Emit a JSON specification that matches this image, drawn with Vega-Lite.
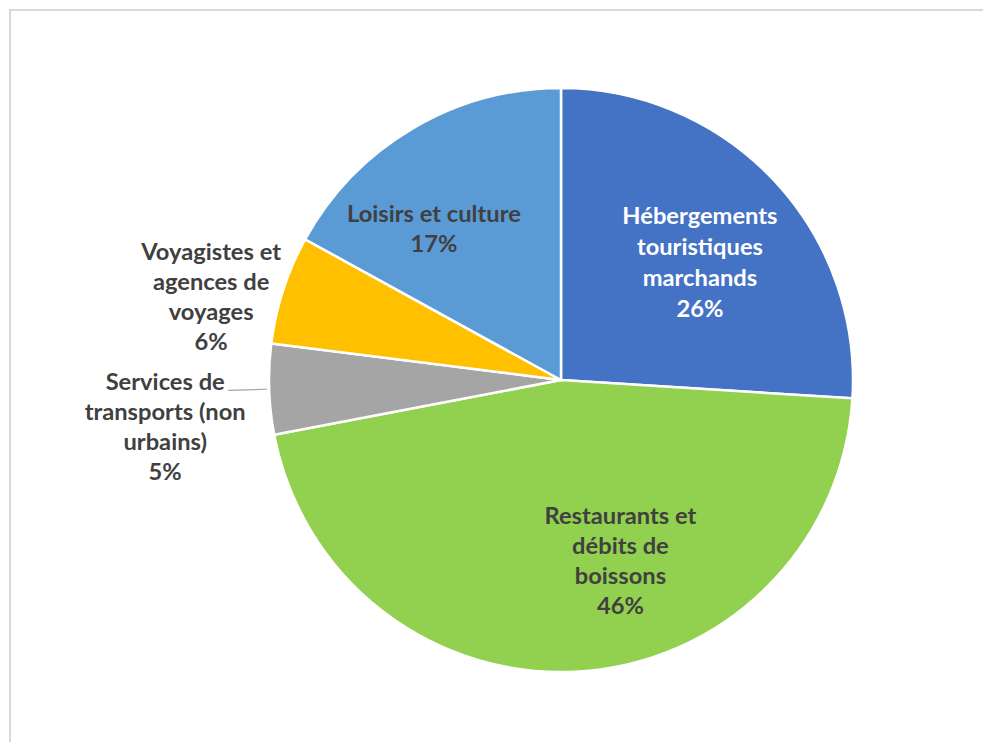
{
  "$schema": "https://vega.github.io/schema/vega-lite/v6.json",
  "width": 1102,
  "height": 740,
  "padding": {"left": 10, "top": 10, "right": 0, "bottom": 0},
  "autosize": {"type": "none"},
  "background": "white",
  "config": {"view": {"stroke": null}},
  "data": {
    "values": [
      {"idx": 1, "category": "Hébergements touristiques marchands", "value": 26, "lines": ["Hébergements", "touristiques", "marchands", "26%"]},
      {"idx": 2, "category": "Restaurants et débits de boissons", "value": 46, "lines": ["Restaurants et", "débits de", "boissons", "46%"]},
      {"idx": 3, "category": "Services de transports (non urbains)", "value": 5, "lines": ["Services de", "transports (non", "urbains)", "5%"]},
      {"idx": 4, "category": "Voyagistes et agences de voyages", "value": 6, "lines": ["Voyagistes et", "agences de", "voyages", "6%"]},
      {"idx": 5, "category": "Loisirs et culture", "value": 17, "lines": ["Loisirs et culture", "17%"]}
    ]
  },
  "layer": [
    {
      "mark": {"type": "rect", "fill": null, "stroke": "#d9d9d9", "strokeWidth": 2},
      "encoding": {}
    },
    {
      "mark": {"type": "arc", "radius": 292, "stroke": "white", "strokeWidth": 2.5},
      "encoding": {
        "theta": {"field": "value", "type": "quantitative", "stack": true},
        "order": {"field": "idx", "type": "quantitative"},
        "color": {
          "field": "category", "type": "nominal", "legend": null,
          "scale": {
            "domain": ["Hébergements touristiques marchands", "Restaurants et débits de boissons", "Services de transports (non urbains)", "Voyagistes et agences de voyages", "Loisirs et culture"],
            "range": ["#4472C4", "#92D050", "#A5A5A5", "#FFC000", "#5B9BD5"]
          }
        }
      }
    },
    {
      "mark": {"type": "arc", "radius": 333, "radius2": 294, "padAngle": 1.5, "fill": null, "stroke": "#a6a6a6", "strokeWidth": 1.2},
      "encoding": {
        "theta": {"field": "value", "type": "quantitative", "stack": true},
        "order": {"field": "idx", "type": "quantitative"},
        "strokeOpacity": {"condition": {"test": "datum.idx === 3", "value": 1}, "value": 0}
      }
    },
    {
      "mark": {"type": "text", "radius": 181, "dx": 7, "dy": -39, "font": "Lato", "fontWeight": "bold", "fontSize": 23.7, "lineHeight": 31, "align": "center", "baseline": "middle", "color": "white"},
      "encoding": {
        "theta": {"field": "value", "type": "quantitative", "stack": true},
        "order": {"field": "idx", "type": "quantitative"},
        "text": {"condition": {"test": "datum.idx === 1", "field": "lines"}, "value": ""}
      }
    },
    {
      "mark": {"type": "text", "radius": 182, "dx": 48, "dy": -45, "font": "Lato", "fontWeight": "bold", "fontSize": 23.7, "lineHeight": 30, "align": "center", "baseline": "middle", "color": "#404040"},
      "encoding": {
        "theta": {"field": "value", "type": "quantitative", "stack": true},
        "order": {"field": "idx", "type": "quantitative"},
        "text": {"condition": {"test": "datum.idx === 2", "field": "lines"}, "value": ""}
      }
    },
    {
      "mark": {"type": "text", "radius": 396, "dx": 0, "dy": -9, "font": "Lato", "fontWeight": "bold", "fontSize": 23.7, "lineHeight": 30, "align": "center", "baseline": "middle", "color": "#404040"},
      "encoding": {
        "theta": {"field": "value", "type": "quantitative", "stack": true},
        "order": {"field": "idx", "type": "quantitative"},
        "text": {"condition": {"test": "datum.idx === 3", "field": "lines"}, "value": ""}
      }
    },
    {
      "mark": {"type": "text", "radius": 350, "dx": -17, "dy": -19, "font": "Lato", "fontWeight": "bold", "fontSize": 23.7, "lineHeight": 30, "align": "center", "baseline": "middle", "color": "#404040"},
      "encoding": {
        "theta": {"field": "value", "type": "quantitative", "stack": true},
        "order": {"field": "idx", "type": "quantitative"},
        "text": {"condition": {"test": "datum.idx === 4", "field": "lines"}, "value": ""}
      }
    },
    {
      "mark": {"type": "text", "radius": 175, "dx": -38, "dy": -14, "font": "Lato", "fontWeight": "bold", "fontSize": 23.7, "lineHeight": 30, "align": "center", "baseline": "middle", "color": "#404040"},
      "encoding": {
        "theta": {"field": "value", "type": "quantitative", "stack": true},
        "order": {"field": "idx", "type": "quantitative"},
        "text": {"condition": {"test": "datum.idx === 5", "field": "lines"}, "value": ""}
      }
    }
  ]
}
